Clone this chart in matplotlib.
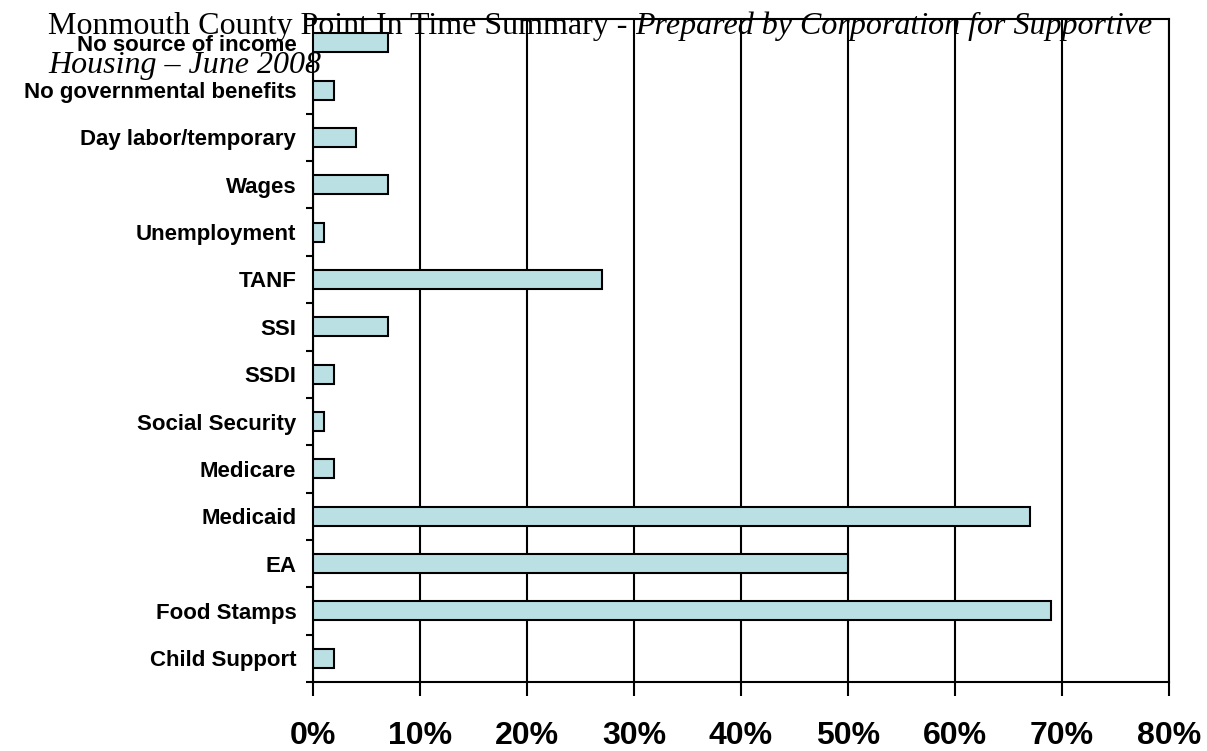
import matplotlib
matplotlib.use("Agg")
import matplotlib.pyplot as plt
from matplotlib.ticker import FixedLocator, FuncFormatter

categories = ["Child Support", "Food Stamps", "EA", "Medicaid", "Medicare",
              "Social Security", "SSDI", "SSI", "TANF", "Unemployment",
              "Wages", "Day labor/temporary", "No governmental benefits",
              "No source of income"]
values = [2, 69, 50, 67, 2, 1, 2, 7, 27, 1, 7, 4, 2, 7]
xticks = [0, 10, 20, 30, 40, 50, 60, 70, 80]

W, H = 1207, 751
fig = plt.figure(figsize=(W / 100, H / 100), dpi=100)
ax = fig.add_axes([313 / W, 1 - 682 / H, (1169 - 313) / W, (682 - 19) / H])

ypos = list(range(len(categories)))
ax.barh(ypos, values, height=0.4, color="#BBE0E3", edgecolor="black",
        linewidth=1.5, zorder=3)

ax.set_xlim(0, 80)
ax.set_ylim(-0.5, len(categories) - 0.5)
ax.set_xticks(xticks)
ax.xaxis.set_major_formatter(FuncFormatter(lambda v, p: f"{int(v)}%"))
ax.grid(axis="x", color="black", linewidth=1.5, zorder=1)
ax.set_axisbelow(True)

ax.set_yticks(ypos)
ax.set_yticklabels(categories)
ax.yaxis.set_minor_locator(FixedLocator([i - 0.5 for i in range(len(categories) + 1)]))
ax.tick_params(axis="y", which="major", length=0, pad=12)
ax.tick_params(axis="y", which="minor", length=5, width=1.5, direction="out")
ax.tick_params(axis="x", which="major", length=10, width=1.5, direction="out", pad=18)

for lab in ax.get_yticklabels():
    lab.set_fontfamily("Liberation Sans")
    lab.set_fontweight("bold")
    lab.set_fontsize(16)
for lab in ax.get_xticklabels():
    lab.set_fontfamily("Liberation Sans")
    lab.set_fontweight("bold")
    lab.set_fontsize(23)

for s in ax.spines.values():
    s.set_color("black")
    s.set_linewidth(1.5)

# Title (mixed normal and italic)
t1 = fig.text(48 / W, 1 - 34 / H, "Monmouth County Point In Time Summary - ",
              family="Liberation Serif", fontsize=23, va="baseline", ha="left")
fig.canvas.draw()
bb = t1.get_window_extent()
fig.text(bb.x1 / W, 1 - 34 / H, "Prepared by Corporation for Supportive",
         family="Liberation Serif", style="italic", fontsize=23,
         va="baseline", ha="left")
fig.text(48 / W, 1 - 73 / H, "Housing \u2013 June 2008",
         family="Liberation Serif", style="italic", fontsize=23,
         va="baseline", ha="left")

fig.savefig("out.png", dpi=100)
